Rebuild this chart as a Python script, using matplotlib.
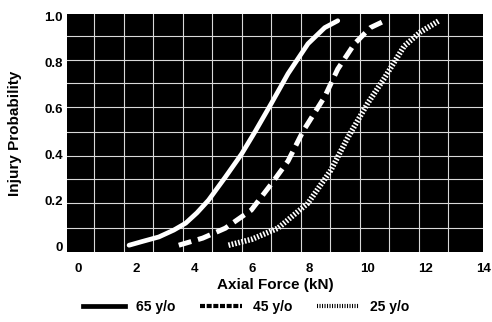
import numpy as np
import matplotlib
matplotlib.use("Agg")
import matplotlib.pyplot as plt
from matplotlib.lines import Line2D

plt.rcParams['font.family'] = ['Liberation Sans', 'DejaVu Sans']
plt.rcParams['font.weight'] = 'bold'

# values
x65 = [1.75, 2.2, 2.78, 3.3, 3.71, 4.1, 4.5, 5.08, 5.64, 6.12, 6.67, 7.25, 7.94, 8.52, 8.97]
y65 = [0.004, 0.02, 0.04, 0.07, 0.10, 0.145, 0.20, 0.30, 0.40, 0.50, 0.62, 0.75, 0.88, 0.95, 0.98]

x45 = [3.47, 4.3, 5.08, 5.98, 6.67, 7.25, 7.77, 8.52, 8.97, 9.55, 10.1, 10.6]
y45 = [0.004, 0.035, 0.078, 0.157, 0.27, 0.37, 0.50, 0.65, 0.77, 0.88, 0.95, 0.98]

x25 = [5.19, 6.0, 6.9, 7.94, 8.73, 9.31, 10.0, 10.58, 11.27, 11.82, 12.47]
y25 = [0.004, 0.03, 0.078, 0.187, 0.33, 0.47, 0.62, 0.73, 0.87, 0.93, 0.98]

series = ["65 y/o", "45 y/o", "25 y/o"]
xticks = [0, 2, 4, 6, 8, 10, 12, 14]
yticks = [0, 0.2, 0.4, 0.6, 0.8, 1.0]
ytick_labels = ["0", "0.2", "0.4", "0.6", "0.8", "1.0"]

fig = plt.figure(figsize=(4.92, 3.22), dpi=100)
ax = fig.add_axes([0.136, 0.217, 0.846, 0.74])
ax.set_facecolor("black")

# the scanned grid
ax.set_xticks(np.arange(0.55, 13.7, 1.02), minor=True)
ax.set_yticks([0.078, 0.187, 0.291, 0.391, 0.496, 0.604, 0.709, 0.809, 0.913], minor=True)
ax.grid(which="minor", color="#d8d8d8", linewidth=0.8)
ax.grid(which="major", visible=False)

ax.plot(x65, y65, color="white", linewidth=3.4, solid_capstyle="round", solid_joinstyle="round")
ax.plot(x45, y45, color="white", linewidth=3.6, linestyle=(0, (2.6, 1.4)), dash_capstyle="butt")
ax.plot(x25, y25, color="white", linewidth=4.0, linestyle=(0, (0.3, 0.3)), dash_capstyle="butt")

ax.set_xlim(-0.4, 13.9)
ax.set_ylim(-0.026, 1.01)
ax.set_xticks(xticks)
ax.set_yticks(yticks)
ax.set_yticklabels(ytick_labels)
ax.tick_params(which="both", length=0, labelsize=9.5)
ax.tick_params(axis="x", pad=8)
ax.tick_params(axis="y", pad=3)
for s in ax.spines.values():
    s.set_visible(False)

ax.set_xlabel("Axial Force (kN)", fontsize=11, fontweight="bold", labelpad=2)
ax.set_ylabel("Injury Probability", fontsize=11, fontweight="bold", labelpad=16)

handles = [
    Line2D([], [], color="black", linewidth=3.4),
    Line2D([], [], color="black", linewidth=3.0, linestyle=(0, (1.2, 0.4))),
    Line2D([], [], color="black", linewidth=3.0, linestyle=(0, (0.25, 0.35))),
]
fig.legend(handles, series, loc="lower center", bbox_to_anchor=(0.5, -0.015), ncol=3,
           frameon=False, fontsize=10, handlelength=3.0, columnspacing=1.8, handletextpad=0.8)

fig.savefig("out.png", dpi=100)
